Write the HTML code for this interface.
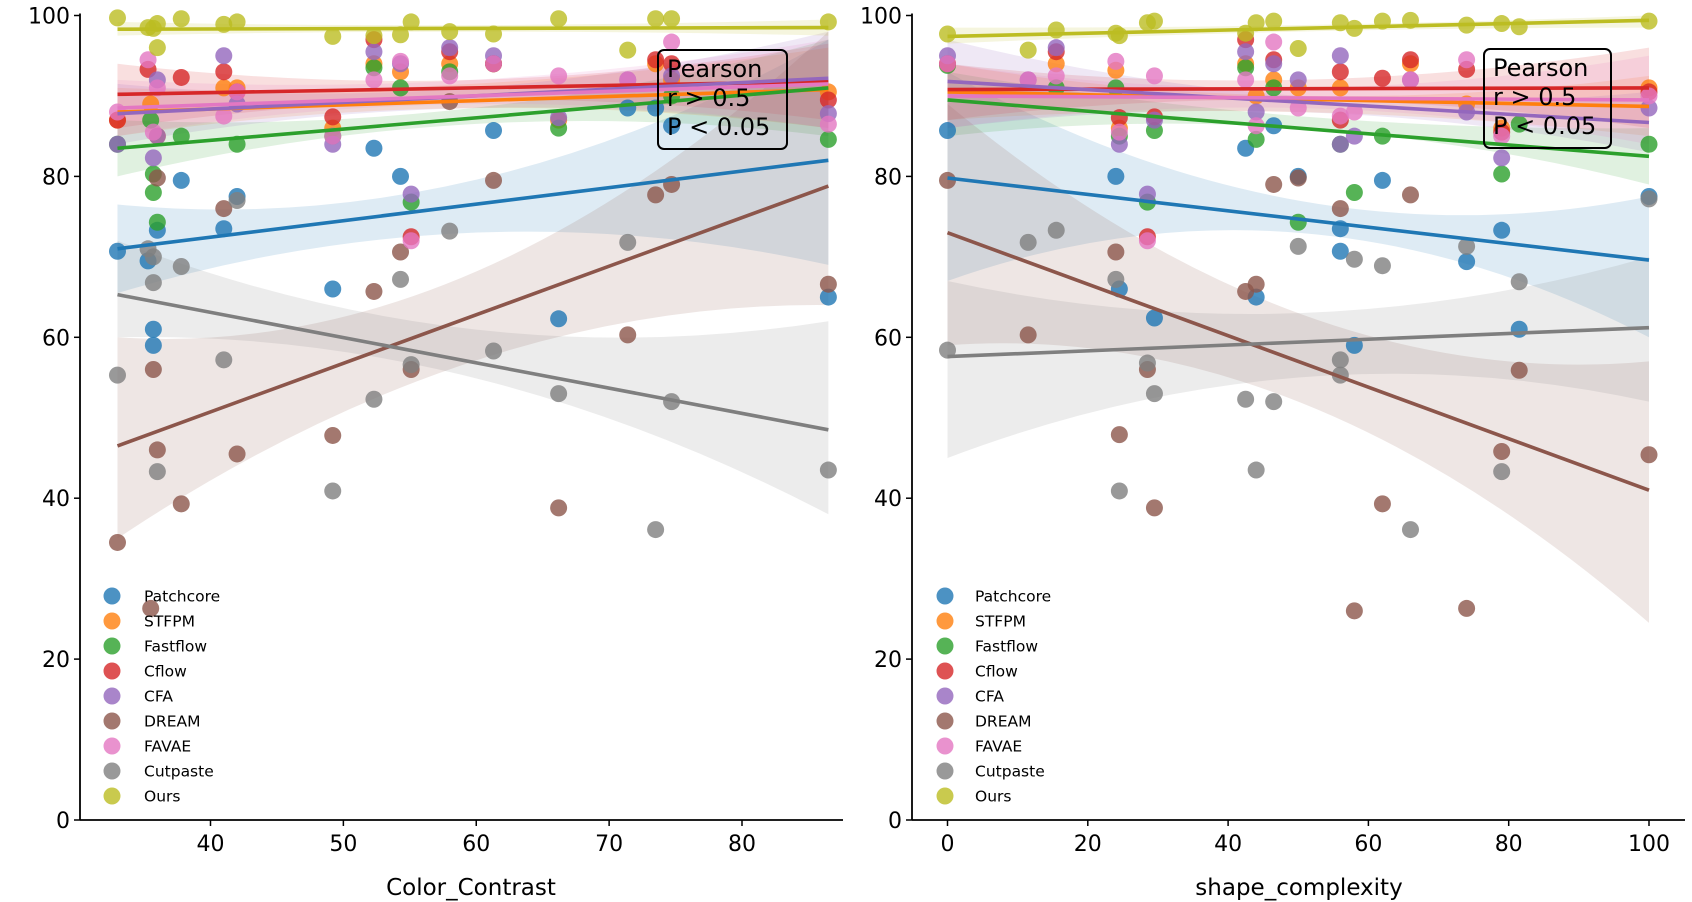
<!DOCTYPE html>
<html><head><meta charset="utf-8"><style>
body{margin:0;background:#fff;}
svg{display:block;font-family:"DejaVu Sans","Liberation Sans",sans-serif;}
</style></head><body>
<svg id="chart" width="1692" height="902" viewBox="0 0 1692 902" xmlns="http://www.w3.org/2000/svg"></svg>
<script>
const methods=["Patchcore","STFPM","Fastflow","Cflow","CFA","DREAM","FAVAE","Cutpaste","Ours"];
const colors=["#1f77b4","#ff7f0e","#2ca02c","#d62728","#9467bd","#8c564b","#e377c2","#7f7f7f","#bcbd22"];
const yTicks=[0,20,40,60,80,100];
const leftXTicks=[40,50,60,70,80];
const rightXTicks=[0,20,40,60,80,100];
// Left panel (Color_Contrast)
const leftX=[
[33,35.3,35.7,35.7,36,37.8,41,42,49.2,52.3,54.3,61.3,66.2,71.4,73.5,74.7,86.5],
[33,35.5,36,41,42,49.2,52.3,54.3,58,61.3,66.2,73.5,74.7,86.5],
[33,35.5,35.7,35.7,36,37.8,42,49.2,52.3,54.3,55.1,58,61.3,66.2,74.7,86.5],
[33,35.3,37.8,41,42,49.2,52.3,55.1,58,61.3,73.5,74.7,86.5],
[33,35.7,36,36,41,42,49.2,52.3,54.3,55.1,58,61.3,66.2,71.4,74.7,86.5],
[33,35.5,35.7,36,36,37.8,41,42,49.2,52.3,54.3,55.1,58,61.3,66.2,71.4,73.5,74.7,86.5],
[33,35.3,35.7,36,41,42,49.2,52.3,54.3,55.1,58,61.3,66.2,71.4,74.7,86.5],
[33,35.3,35.7,35.7,36,37.8,41,42,49.2,52.3,54.3,55.1,58,61.3,66.2,71.4,73.5,74.7,86.5],
[33,35.3,35.7,36,36,37.8,41,42,49.2,52.3,54.3,55.1,58,61.3,66.2,71.4,73.5,74.7,86.5]];
const leftY=[
[70.7,69.5,61,59,73.3,79.5,73.5,77.5,66,83.5,80,85.7,62.3,88.5,88.5,86.3,65],
[87,89,85,91,91,86,94,93,94,94,87,94,92,90.5],
[84,87,80.3,78,74.3,85,84,85,93.5,91,76.8,93,94,86,90,84.6],
[87,93.3,92.3,93,90.5,87.4,97,72.5,95.5,94,94.5,94,89.5],
[84,82.3,92,85,95,89,84,95.5,94,77.8,96,95,87.3,92,92.5,87.8],
[34.5,26.3,56,46,79.8,39.3,76,45.5,47.8,65.7,70.6,56,89.3,79.5,38.8,60.3,77.7,79,66.6],
[88,94.5,85.5,91,87.5,90.5,85,92,94.3,72,92.5,94,92.5,92,96.7,86.5],
[55.3,71,70,66.8,43.3,68.8,57.2,77,40.9,52.3,67.2,56.6,73.2,58.3,53,71.8,36.1,52,43.5],
[99.7,98.5,98.4,99,96,99.6,98.9,99.2,97.4,97.5,97.6,99.2,98,97.7,99.6,95.7,99.6,99.6,99.2]];
const leftFitStart=[71,88,83.5,90.2,87.8,46.5,88.5,65.3,98.3];
const leftFitEnd=[82,90.8,91,91.8,92.2,78.8,91.5,48.5,98.5];
const leftBandLo=[[65.5,73,69],[85,88.5,86],[80,86.5,85],[86,89.5,87],[84,88.5,86],[35,57,64],[85,89,86],[60,55,38],[97.5,98,97.5]];
const leftBandHi=[[76.5,79.5,97],[91,91.5,96],[87,88.5,97],[94,92,96.5],[91.5,91,98],[60,68,98],[92,92,97],[72,61,62],[99.2,98.8,99.5]];
// Right panel (shape_complexity)
const rightX=[
[0,24,24.5,29.5,42.5,44,46.5,50,56,56,58,62,74,79,81.5,100],
[0,15.5,24,24.5,42.5,44,46.5,50,56,66,74,79,100],
[0,15.5,24,24.5,28.5,29.5,42.5,44,46.5,50,56,58,62,79,81.5,100],
[0,15.5,24.5,28.5,29.5,42.5,46.5,56,56,62,66,74,79,100],
[0,11.5,15.5,24.5,28.5,29.5,42.5,44,46.5,50,56,56,58,66,74,79,100],
[0,11.5,24,24.5,28.5,29.5,42.5,44,46.5,50,56,58,62,66,74,79,81.5,100],
[0,11.5,15.5,24,24.5,28.5,29.5,42.5,44,46.5,50,56,58,66,74,79,100],
[0,11.5,15.5,24,24.5,28.5,29.5,42.5,44,46.5,50,56,56,58,62,66,74,79,81.5,100],
[0,11.5,15.5,24,24.5,28.5,29.5,42.5,44,46.5,50,56,58,62,66,74,79,81.5,100]];
const rightY=[
[85.7,80,66,62.4,83.5,65,86.3,80,73.5,70.7,59,79.5,69.4,73.3,61,77.5],
[94,94,93.2,86,94,90,92,91,91,94,89,86,91],
[93.8,91,91,85,76.8,85.7,93.5,84.6,91,74.3,84,78,85,80.3,86.5,84],
[94,95.5,87.3,72.5,87.4,97,94.5,93,87,92.2,94.5,93.3,85.5,90.5],
[95,92,96,84,77.8,87,95.5,88,94,92,95,84,85,92,88,82.3,88.5],
[79.5,60.3,70.6,47.9,56,38.8,65.7,66.6,79,79.8,76,26,39.3,77.7,26.3,45.8,55.9,45.4],
[94,92,92.5,94.3,85.5,72,92.5,92,86.3,96.7,88.5,87.5,88,92,94.5,85,90],
[58.4,71.8,73.3,67.2,40.9,56.8,53,52.3,43.5,52,71.3,57.2,55.3,69.7,68.9,36.1,71.3,43.3,66.9,77.2],
[97.7,95.7,98.2,97.8,97.5,99.1,99.3,97.8,99.1,99.3,95.9,99.1,98.4,99.3,99.4,98.8,99,98.6,99.3]];
const rightFitStart=[79.8,90.5,89.5,90.8,91.8,73,90,57.6,97.4];
const rightFitEnd=[69.6,88.7,82.5,91,86.7,41,89.5,61.2,99.4];
const rightBandLo=[[67,73,60],[87,88,85],[85,86,79],[87,89.5,86],[86,88,83],[59,52,24.5],[86,88.5,84],[45,55,52],[96.5,98,98.5]];
const rightBandHi=[[93,77,77.5],[94,90,92.5],[93,87.5,86],[94,92,96],[97,90,90.5],[89,63,57],[94,91,95],[67,63,70],[98.5,98.8,100]];

const svg=document.getElementById('chart');
const NS="http://www.w3.org/2000/svg";
function mk(tag,attrs,parent){const e=document.createElementNS(NS,tag);for(const k in attrs)e.setAttribute(k,attrs[k]);(parent||svg).appendChild(e);return e;}

const panels=[
 {name:"left",ax:80,axEnd:843,x0:40,x1:80,px0:210.5,px1:742,ticks:leftXTicks,X:leftX,Y:leftY,fs:leftFitStart,fe:leftFitEnd,bl:leftBandLo,bh:leftBandHi,xmin:33,xmax:86.5,label:"Color_Contrast",lx:471,legX:112,legTX:144,box:[658,50,129,99]},
 {name:"right",ax:912,axEnd:1685,x0:0,x1:100,px0:947.5,px1:1649,ticks:rightXTicks,X:rightX,Y:rightY,fs:rightFitStart,fe:rightFitEnd,bl:rightBandLo,bh:rightBandHi,xmin:0,xmax:100,label:"shape_complexity",lx:1299,legX:945,legTX:975,box:[1484,49,127,99]}
];
const Y0=820,Y100=15.5;
function sy(v){return Y0+(Y100-Y0)*v/100;}

panels.forEach(p=>{
 const sx=v=>p.px0+(v-p.x0)*(p.px1-p.px0)/(p.x1-p.x0);
 const g=mk('g',{});
 
 
 const xm=(p.xmin+p.xmax)/2;
 for(let i=0;i<methods.length;i++){
  const a=sx(p.xmin),b=sx(p.xmax),m=sx(xm);
  const lo=p.bl[i],hi=p.bh[i];
  const cLo=2*sy(lo[1])-(sy(lo[0])+sy(lo[2]))/2;
  const cHi=2*sy(hi[1])-(sy(hi[0])+sy(hi[2]))/2;
  const d=`M${a},${sy(hi[0])} Q${m},${cHi} ${b},${sy(hi[2])} L${b},${sy(lo[2])} Q${m},${cLo} ${a},${sy(lo[0])} Z`;
  const band=mk('path',{d:d,fill:colors[i],'fill-opacity':0.15},g);
  
  
 }
 for(let i=0;i<methods.length;i++){
  for(let j=0;j<p.X[i].length;j++){
   const c=mk('circle',{cx:sx(p.X[i][j]),cy:sy(p.Y[i][j]),r:8.5,fill:colors[i],'fill-opacity':0.8},g);
   
   
  }
 }
 for(let i=0;i<methods.length;i++){
  const l=mk('line',{x1:sx(p.xmin),y1:sy(p.fs[i]),x2:sx(p.xmax),y2:sy(p.fe[i]),stroke:colors[i],'stroke-width':3.6},g);
  
  
 }
 const ya=mk('line',{x1:p.ax,y1:Y100-2,x2:p.ax,y2:Y0,stroke:'#000','stroke-width':1.8},g);
 
 
 const xa=mk('line',{x1:p.ax,y1:Y0,x2:p.axEnd,y2:Y0,stroke:'#000','stroke-width':1.8},g);
 
 
 yTicks.forEach(t=>{
  mk('line',{x1:p.ax-6,y1:sy(t),x2:p.ax,y2:sy(t),stroke:'#000','stroke-width':1.5},g);
  const tx=mk('text',{x:p.ax-10,y:sy(t)+8,'text-anchor':'end','font-size':22},g);
  tx.textContent=t;
  
  
 });
 p.ticks.forEach(t=>{
  mk('line',{x1:sx(t),y1:Y0,x2:sx(t),y2:Y0+6,stroke:'#000','stroke-width':1.5},g);
  const tx=mk('text',{x:sx(t),y:Y0+31,'text-anchor':'middle','font-size':22},g);
  tx.textContent=t;
  
  
 });
 const xl=mk('text',{x:p.lx,y:895,'text-anchor':'middle','font-size':23},g);
 xl.textContent=p.label;
 
 
 methods.forEach((m,i)=>{
  const yy=596+i*25;
  const c=mk('circle',{cx:p.legX,cy:yy,r:8.5,fill:colors[i],'fill-opacity':0.8},g);
  
  
  const t=mk('text',{x:p.legTX,y:yy+5.5,'font-size':15.5},g);
  t.textContent=m;
  
  
 });
 const [bx,by,bw,bh]=p.box;
 const r=mk('rect',{x:bx,y:by,width:bw,height:bh,rx:6,fill:'none',stroke:'#000','stroke-width':2},g);
 
 
 ["Pearson","r > 0.5","P < 0.05"].forEach((s,k)=>{
  const t=mk('text',{x:bx+9,y:by+27+k*29,'font-size':24},g);
  t.textContent=s;
  
  
 });
});
</script>
</body></html>
